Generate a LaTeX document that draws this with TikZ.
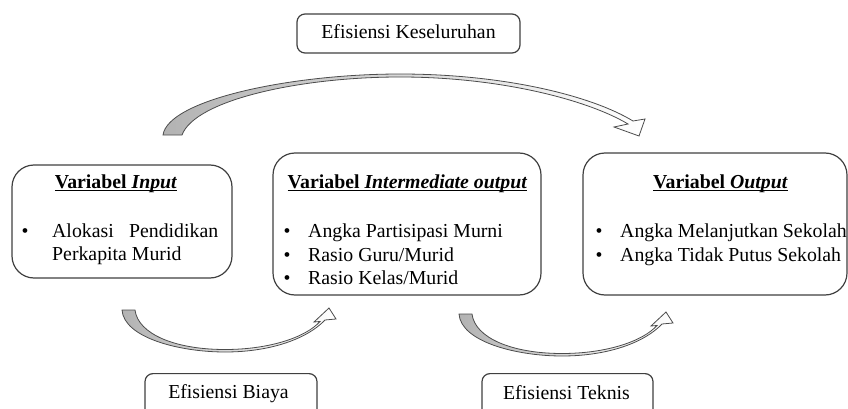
\documentclass[tikz,border=0pt]{standalone}
\usepackage{fontspec}
\setmainfont{Liberation Serif}
% bold heading with a Word-style underline that crosses the descenders
\newcommand\ulinetext[1]{\sbox0{#1}\rlap{\rule[-2.6pt]{\wd0}{1pt}}\usebox0}
\begin{document}
\begin{tikzpicture}[x=1pt,y=-1pt,
  txt/.style={font=\fontsize{19.8}{23}\selectfont, inner sep=0pt},
  panel/.style={draw=black!75, line width=1.2pt, rounded corners=22pt, fill=white},
  tag/.style={draw=black!75, line width=1.2pt, rounded corners=8pt, fill=white},
  blockarrow/.style={draw=black!70, line width=0.8pt, left color=black!30, middle color=black!6, right color=white},
]
\useasboundingbox (0,0) rectangle (848,409);
\clip (0,0) rectangle (848,409);

% ---- frames ----
\node[tag, minimum width=223pt, minimum height=39pt] (overall) at (408.5,33.5) {};
\node[panel, minimum width=220pt, minimum height=113pt] (input) at (122,221.5) {};
\node[panel, minimum width=268pt, minimum height=142pt] (inter) at (407,224) {};
\node[panel, minimum width=264pt, minimum height=142pt] (output) at (715,224) {};
\node[tag, minimum width=172pt, minimum height=60pt, anchor=north] (cost) at (231,373) {};
\node[tag, minimum width=171pt, minimum height=60pt, anchor=north] (tech) at (567.5,373) {};

% ---- labels of the small frames ----
\node[txt, anchor=base] (overalltxt) at (408.5,38.5) {Efisiensi Keseluruhan};
\node[txt, anchor=base] (costtxt) at (228.5,398) {Efisiensi Biaya};
\node[txt, anchor=base] (techtxt) at (566.5,399) {Efisiensi Teknis};

% ---- input variables ----
\node[txt, anchor=base] (inputhead) at (116,188) {\ulinetext{\bfseries Variabel \textit{Input}}};
\node[txt, anchor=base] (inputb1) at (25,237) {\textbullet};
\node[txt, anchor=base west] (inputl1) at (52,237) {\hbox to 166pt{Alokasi\hfill Pendidikan}};
\node[txt, anchor=base west] (inputl2) at (52,260) {Perkapita Murid};

% ---- intermediate output variables ----
\node[txt, anchor=base] (interhead) at (407.5,188) {\ulinetext{\bfseries Variabel \textit{Intermediate output}}};
\node[txt, anchor=base] (interb1) at (287,237) {\textbullet};
\node[txt, anchor=base] (interb2) at (287,261) {\textbullet};
\node[txt, anchor=base] (interb3) at (287,284) {\textbullet};
\node[txt, anchor=base west] (interl1) at (308,237) {Angka Partisipasi Murni};
\node[txt, anchor=base west] (interl2) at (308,261) {Rasio Guru/Murid};
\node[txt, anchor=base west] (interl3) at (308,284) {Rasio Kelas/Murid};

% ---- output variables ----
\node[txt, anchor=base] (outputhead) at (720.5,188) {\ulinetext{\bfseries Variabel \textit{Output}}};
\node[txt, anchor=base] (outputb1) at (599,237) {\textbullet};
\node[txt, anchor=base] (outputb2) at (599,261) {\textbullet};
\node[txt, anchor=base west] (outputl1) at (620,237) {Angka Melanjutkan Sekolah};
\node[txt, anchor=base west] (outputl2) at (620,261) {Angka Tidak Putus Sekolah};

% ---- curved block arrow over the top ----
\path[blockarrow] (163,135) .. controls (168,100) and (290,74) .. (400,74)
  .. controls (505,74) and (592,96) .. (633,121)
  -- (645,119) -- (639,136) -- (614,127) -- (628,124)
  .. controls (588,100) and (500,77) .. (400,77)
  .. controls (300,77) and (195,100) .. (182,135) -- cycle;

% ---- curved block arrows underneath ----
\foreach \dx/\dy in {0/0, 337/4}{
  \begin{scope}[shift={(\dx,\dy)}]
    \path[blockarrow] (122,310) .. controls (124,338) and (180,352) .. (225,352)
      .. controls (272,352) and (308,338) .. (325,320)
      -- (336,319) -- (329,308) -- (314,322) -- (320,321.5)
      .. controls (305,338) and (268,349.5) .. (225,349.5)
      .. controls (175,349.5) and (138,334) .. (135,310) -- cycle;
  \end{scope}
}
\end{tikzpicture}
\end{document}
